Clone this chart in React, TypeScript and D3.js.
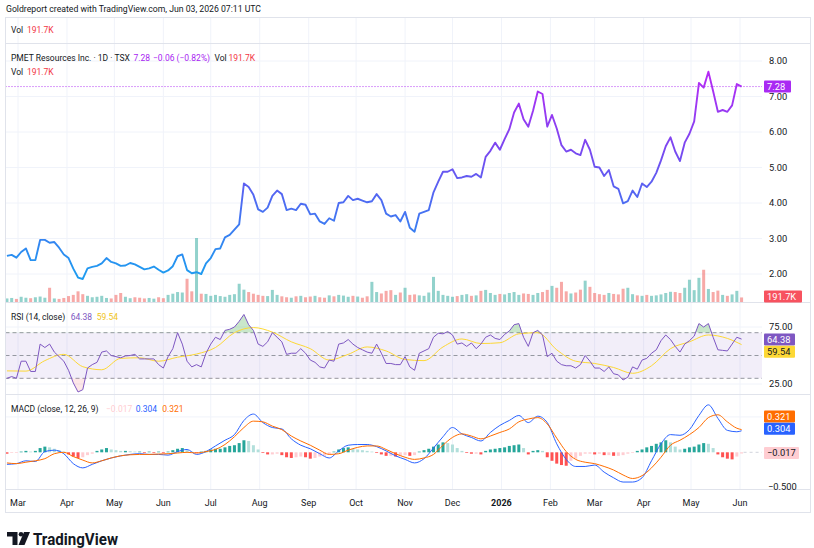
import React from "react";
import * as d3 from "d3";

// one point every 3 calendar days, starting Feb 22 2025 (last = Jun 2 2026)
const START = new Date(2025, 1, 22);
const STEP_DAYS = 3;

const closes = [
  2.51, 2.54, 2.46, 2.62, 2.72, 2.39, 2.39, 2.96, 2.96, 2.88,
  2.9, 2.74, 2.55, 2.45, 2.15, 1.9, 1.86, 2.16, 2.2, 2.23,
  2.3, 2.45, 2.34, 2.3, 2.23, 2.24, 2.31, 2.27, 2.2, 2.13,
  2.16, 2.21, 2.12, 2.04, 2.1, 2.22, 2.5, 2.55, 2.11, 2.02,
  2.05, 2.0, 2.3, 2.45, 2.7, 2.72, 3.03, 3.1, 3.25, 3.4,
  4.55, 4.45, 4.23, 3.82, 3.75, 3.87, 4.2, 4.35, 4.25, 3.8,
  3.84, 3.8, 3.98, 3.95, 3.68, 3.7, 3.48, 3.41, 3.57, 3.5,
  4.0, 4.02, 4.2, 4.08, 4.12, 4.07, 4.02, 4.05, 4.25, 4.08,
  3.7, 3.62, 3.66, 3.48, 3.75, 3.3, 3.19, 3.7, 3.75, 3.8,
  4.3, 4.6, 4.88, 4.88, 4.95, 4.7, 4.72, 4.76, 4.74, 4.82,
  4.72, 5.3, 5.47, 5.7, 5.5, 5.8, 6.08, 6.55, 6.8, 6.36,
  6.15, 6.6, 7.14, 7.07, 6.15, 6.48, 6.1, 5.63, 5.45, 5.5,
  5.4, 5.35, 5.78, 5.5, 5.02, 5.0, 4.76, 4.93, 4.47, 4.4,
  3.99, 4.05, 4.35, 4.17, 4.55, 4.45, 4.6, 4.85, 5.2, 5.6,
  5.85, 5.45, 5.18, 5.7, 5.95, 6.3, 7.38, 7.25, 7.7, 7.15,
  6.57, 6.62, 6.57, 6.75, 7.35, 7.28,
];

// volume in thousands
const volumes = [
  150, 170, 130, 220, 180, 160, 200, 230, 180, 600,
  150, 130, 170, 250, 300, 450, 330, 260, 200, 220,
  260, 170, 150, 300, 380, 220, 160, 200, 180, 150,
  170, 140, 200, 160, 300, 350, 420, 400, 980, 450,
  2700, 350, 340, 260, 300, 250, 220, 300, 330, 770,
  520, 420, 350, 300, 260, 250, 510, 300, 240, 200,
  180, 240, 260, 200, 230, 260, 200, 180, 280, 240,
  300, 270, 220, 260, 230, 180, 240, 850, 420, 360,
  470, 500, 300, 400, 600, 300, 320, 280, 260, 400,
  1060, 470, 300, 260, 220, 250, 300, 330, 260, 280,
  470, 510, 380, 300, 340, 320, 380, 420, 300, 360,
  340, 300, 380, 420, 510, 680, 600, 850, 450, 360,
  400, 520, 900, 640, 380, 330, 300, 380, 340, 320,
  560, 600, 330, 280, 260, 300, 260, 280, 320, 380,
  430, 420, 380, 600, 940, 500, 1020, 1360, 550, 420,
  480, 300, 260, 320, 470, 191.7,
];

const rsi = [
  30, 31.5, 30, 45, 45, 36, 36, 60, 57, 60,
  53, 49, 45, 37, 26, 18, 20, 39, 42, 44,
  53, 54, 50, 49, 48, 49.6, 50, 51, 47, 47,
  47, 47, 42, 39, 49, 56, 70, 60, 45, 40,
  42, 40, 52, 60, 66, 64, 72, 73, 75, 80,
  86, 77, 72, 60, 58, 62, 70, 66, 62, 51,
  52, 52, 56, 52, 46, 44, 40, 39, 46, 45,
  60, 61, 64, 60, 57, 55, 53, 52, 60, 52,
  43, 43, 42, 42, 49, 40, 37, 52, 54, 56,
  66, 69.5, 69, 71, 68, 60, 61, 58, 61, 56,
  60, 66, 68, 65, 64, 68.5, 71.5, 77, 78, 66,
  58, 70, 72, 68, 49, 52, 45, 42, 41, 41,
  39, 42, 50, 45, 39, 39, 36, 40, 34, 33,
  28.5, 31, 40, 38, 46, 47.5, 52, 55, 63, 68,
  64, 58, 53, 60, 63, 67, 78, 75, 78, 66,
  55, 54.5, 54, 60, 66, 64.38,
];

// RSI moving average, every 4th point plus the last one
const rsiMa = [
  36.5, 36.3, 45.5, 51, 40.2, 37.5, 47.5, 48, 45, 48.5,
  51.3, 57, 70, 74.5, 70.5, 62, 56, 46, 51, 57.5,
  54, 46.5, 45.5, 57.5, 64.5, 60.5, 61.2, 69, 70, 55,
  45, 43, 39.5, 34.4, 41, 56, 62, 68, 65, 59.54,
];

// MACD and signal, every 2nd point plus the last one
const macd = [
  -0.17, -0.16, -0.12, -0.13, 0.01, 0.03, -0.02, -0.16, -0.22, -0.17,
  -0.12, -0.08, -0.05, -0.03, -0.02, -0.03, -0.03, -0.04, 0.01, 0.04,
  -0.03, 0.01, 0.09, 0.17, 0.25, 0.45, 0.54, 0.42, 0.35, 0.33,
  0.19, 0.1, 0.05, -0.02, -0.08, 0.02, 0.1, 0.11, 0.11, 0.08,
  0.02, -0.05, -0.1, -0.15, -0.09, 0.06, 0.22, 0.35, 0.26, 0.21,
  0.16, 0.28, 0.38, 0.45, 0.52, 0.42, 0.51, 0.42, 0.12, -0.1,
  -0.2, -0.2, -0.18, -0.28, -0.36, -0.42, -0.42, -0.36, -0.12, 0.12,
  0.25, 0.24, 0.32, 0.52, 0.67, 0.48, 0.31, 0.29, 0.304,
];

const signal = [
  -0.15, -0.16, -0.14, -0.12, -0.09, -0.02, 0.0, -0.06, -0.11, -0.15,
  -0.12, -0.08, -0.05, -0.035, -0.03, -0.03, -0.025, -0.02, -0.01, 0.0,
  -0.01, 0.01, 0.04, 0.11, 0.22, 0.35, 0.44, 0.43, 0.37, 0.32,
  0.23, 0.16, 0.1, 0.03, -0.03, -0.02, 0.03, 0.07, 0.09, 0.09,
  0.04, -0.02, -0.07, -0.1, -0.08, -0.03, 0.1, 0.21, 0.26, 0.23,
  0.19, 0.23, 0.28, 0.33, 0.43, 0.47, 0.49, 0.4, 0.2, 0.01,
  -0.1, -0.14, -0.16, -0.2, -0.25, -0.32, -0.37, -0.33, -0.22, -0.07,
  0.1, 0.17, 0.25, 0.35, 0.49, 0.53, 0.43, 0.34, 0.321,
];

const hist = [
  -0.02, -0.01, -0.01, 0.01, 0.02, 0.01, 0.02, 0.06, 0.08, 0.07,
  0.05, 0.03, 0.01, -0.03, -0.06, -0.08, -0.07, -0.04, -0.02, 0.02,
  0.04, 0.06, 0.04, 0.03, 0.02, 0.02, 0.015, 0.01, 0.01, -0.01,
  0.01, -0.01, 0.01, -0.01, 0.01, 0.03, 0.05, 0.06, 0.03, 0.01,
  -0.01, 0.01, 0.02, 0.04, 0.05, 0.05, 0.07, 0.09, 0.1, 0.13,
  0.17, 0.16, 0.1, 0.04, -0.01, -0.03, -0.03, -0.02, -0.04, -0.07,
  -0.08, -0.07, -0.06, -0.07, -0.09, -0.08, -0.06, -0.05, -0.03, 0.01,
  0.04, 0.06, 0.07, 0.05, 0.04, 0.03, 0.02, 0.01, -0.01, -0.03,
  -0.05, -0.05, -0.06, -0.05, -0.04, -0.05, -0.04, 0.01, 0.03, 0.05,
  0.08, 0.11, 0.14, 0.13, 0.11, 0.06, 0.02, -0.01, -0.02, -0.02,
  -0.03, 0.02, 0.04, 0.05, 0.06, 0.07, 0.09, 0.1, 0.11, 0.06,
  -0.03, 0.02, 0.03, 0.02, -0.07, -0.12, -0.16, -0.18, -0.19, -0.12,
  -0.09, -0.05, -0.02, -0.02, -0.03, -0.02, -0.04, -0.04, -0.05, -0.05,
  -0.04, -0.02, -0.01, 0.02, 0.04, 0.07, 0.09, 0.12, 0.14, 0.17,
  0.14, 0.08, 0.04, 0.05, 0.07, 0.08, 0.11, 0.13, 0.12, 0.06,
  -0.03, -0.07, -0.09, -0.1, -0.06, -0.017,
];

const priceTicks = [2, 3, 4, 5, 6, 7, 8];
const monthLabels = ["Mar", "Apr", "May", "Jun", "Jul", "Aug", "Sep", "Oct", "Nov", "Dec", "2026", "Feb", "Mar", "Apr", "May", "Jun"];

const FONT = "Roboto, 'Liberation Sans', Arial, sans-serif";
const TXT = "#131722";
const GRID = "#f0f3fa";
const BORDER = "#e0e3eb";
const RED = "#F23645";
const PURPLE = "#a825f2";

// layout
const L = 5.5, R = 810.5, PR = 762, AX = 769;
const TOP = 17.5, SEP1 = 43.5, SEP2 = 302.5, SEP3 = 394.5, SEP4 = 489.5, BOT = 512.5;

function T(props: any) {
  const { w, children, ...rest } = props;
  return (
    <text fontFamily={FONT} fontSize={8.5} fill={TXT} textLength={w} lengthAdjust={w ? "spacingAndGlyphs" : undefined} {...rest}>
      {children}
    </text>
  );
}

function Tag({ y, text, bg, color = "#fff", w = 31 }: any) {
  return (
    <g>
      <rect x={764} y={y - 6} width={w} height={12} fill={bg} rx={1} />
      <text x={767} y={y + 3.3} fontFamily={FONT} fontSize={9.3} fill={color}>{text}</text>
    </g>
  );
}

export default function App() {
  const n = closes.length;
  const dates = d3.range(n).map((i) => d3.timeDay.offset(START, i * STEP_DAYS));
  const x = d3.scaleTime().domain([new Date(2025, 2, 1), new Date(2026, 5, 1)]).range([18, 740]);
  const xi = (i: number) => x(dates[i]);
  const months = d3.timeMonth.range(new Date(2025, 2, 1), new Date(2026, 6, 1));

  const yP = d3.scaleLinear().domain([2, 8]).range([274, 61]);
  const yV = d3.scaleLinear().domain([0, 2700]).range([302, 238]);
  const yR = d3.scaleLinear().domain([30, 70]).range([378.3, 332.7]);
  const yM = d3.scaleLinear().domain([-0.5, 0.5]).range([487.7, 416.9]);

  const priceLine = d3.line<number>().x((_, i) => xi(i)).y((d) => yP(d));
  const rsiLine = d3.line<number>().x((_, i) => xi(i)).y((d) => yR(d));
  const rsiArea = d3.area<number>().x((_, i) => xi(i)).y0(yR(70)).y1((d) => yR(d));
  const rsiAreaLow = d3.area<number>().x((_, i) => xi(i)).y0(yR(30)).y1((d) => yR(d));
  const maIdx = (k: number, len: number, step: number) => (k === len - 1 ? n - 1 : k * step);
  const rsiMaLine = d3.line<number>().x((_, k) => xi(maIdx(k, rsiMa.length, 4))).y((d) => yR(d)).curve(d3.curveMonotoneX);
  const macdLine = d3.line<number>().x((_, k) => xi(maIdx(k, macd.length, 2))).y((d) => yM(d)).curve(d3.curveMonotoneX);
  const sigLine = d3.line<number>().x((_, k) => xi(maIdx(k, signal.length, 2))).y((d) => yM(d)).curve(d3.curveMonotoneX);

  const histColor = (v: number, p: number) =>
    v >= 0 ? (v >= p ? "#26A69A" : "#B2DFDB") : v < p ? "#FF5252" : "#FFCDD2";

  return (
    <svg width={814} height={548} style={{ position: "absolute", left: 0, top: 0 }}>
      <defs>
        <linearGradient id="pg" gradientUnits="userSpaceOnUse" x1={0} y1={275} x2={0} y2={70}>
          <stop offset="0" stopColor="#1E9BF0" />
          <stop offset="0.35" stopColor="#4C6CF2" />
          <stop offset="0.62" stopColor="#7B47F0" />
          <stop offset="1" stopColor="#B829F5" />
        </linearGradient>
        <clipPath id="ob"><rect x={0} y={SEP2} width={PR} height={yR(70) - SEP2} /></clipPath>
        <clipPath id="os"><rect x={0} y={yR(30)} width={PR} height={SEP3 - yR(30)} /></clipPath>
      </defs>
      <rect width={814} height={548} fill="#fff" />

      <T x={6} y={11.5} w={255}>Goldreport created with TradingView.com, Jun 03, 2026 07:11 UTC</T>

      {/* grid */}
      {months.map((m, i) => (
        <line key={"vg" + i} x1={x(m)} x2={x(m)} y1={TOP} y2={SEP4} stroke={GRID} />
      ))}
      {priceTicks.map((p) => (
        <line key={"hg" + p} x1={L} x2={PR} y1={yP(p)} y2={yP(p)} stroke={GRID} />
      ))}
      {[75, 25].map((v) => (
        <line key={"rg" + v} x1={L} x2={PR} y1={yR(v)} y2={yR(v)} stroke={GRID} />
      ))}
      <line x1={L} x2={PR} y1={yM(0.5)} y2={yM(0.5)} stroke={GRID} />

      {/* volume */}
      {volumes.map((v, i) => {
        const up = i === 0 || closes[i] >= closes[i - 1];
        return (
          <rect key={"v" + i} x={xi(i) - 1.5} width={3} y={yV(v)} height={yV(0) - yV(v)}
            fill={up ? "rgba(38,166,154,0.5)" : "rgba(239,83,80,0.5)"} />
        );
      })}

      {/* last price line */}
      <line x1={L} x2={PR} y1={yP(7.28)} y2={yP(7.28)} stroke="#b33cf5" strokeDasharray="1 2" />
      <path d={priceLine(closes) || ""} fill="none" stroke="url(#pg)" strokeWidth={1.9} strokeLinejoin="round" />

      {/* RSI */}
      <rect x={L} width={PR - L} y={yR(70)} height={yR(30) - yR(70)} fill="rgba(126,87,194,0.1)" />
      {[70, 50, 30].map((v) => (
        <line key={"rd" + v} x1={L} x2={PR} y1={yR(v)} y2={yR(v)} stroke="#9598a1" strokeDasharray="4 3" />
      ))}
      <path d={rsiArea(rsi) || ""} fill="rgba(76,175,80,0.3)" clipPath="url(#ob)" />
      <path d={rsiAreaLow(rsi) || ""} fill="rgba(242,54,69,0.12)" clipPath="url(#os)" />
      <path d={rsiMaLine(rsiMa) || ""} fill="none" stroke="#FDD835" strokeWidth={1} />
      <path d={rsiLine(rsi) || ""} fill="none" stroke="#7E57C2" strokeWidth={1} />

      {/* MACD */}
      {hist.map((v, i) => {
        const p = i === 0 ? 0 : hist[i - 1];
        const y0 = yM(0), y1 = yM(v);
        return (
          <rect key={"h" + i} x={xi(i) - 1.5} width={3} y={Math.min(y0, y1)} height={Math.max(0.6, Math.abs(y1 - y0))}
            fill={histColor(v, p)} />
        );
      })}
      <line x1={xi(n - 1) + 2} x2={PR} y1={yM(0)} y2={yM(0)} stroke="#d1d4dc" strokeDasharray="3 3" />
      <path d={macdLine(macd) || ""} fill="none" stroke="#2962FF" strokeWidth={1} />
      <path d={sigLine(signal) || ""} fill="none" stroke="#FF6D00" strokeWidth={1} />

      {/* frame & separators */}
      <rect x={L} y={TOP} width={R - L} height={BOT - TOP} fill="none" stroke={BORDER} />
      {[SEP1, SEP2, SEP3, SEP4].map((s) => (
        <line key={"s" + s} x1={L} x2={R} y1={s} y2={s} stroke={BORDER} />
      ))}

      {/* legends */}
      <T x={11} y={32.5}>Vol</T>
      <T x={27} y={32.5} fill={RED}>191.7K</T>
      <T x={11} y={60.5}>PMET Resources Inc. · 1D · TSX</T>
      <T x={133.5} y={60.5} fill={PURPLE}>7.28</T>
      <T x={153} y={60.5} fill={PURPLE}>−0.06 (−0.82%)</T>
      <T x={214.5} y={60.5}>Vol</T>
      <T x={228.5} y={60.5} fill={RED}>191.7K</T>
      <T x={11} y={74.5}>Vol</T>
      <T x={27} y={74.5} fill={RED}>191.7K</T>

      <T x={11} y={319.5}>RSI (14, close)</T>
      <T x={70.7} y={319.5} fill="#7E57C2">64.38</T>
      <T x={96.7} y={319.5} fill="#F0C419">59.54</T>

      <T x={11} y={411.5}>MACD (close, 12, 26, 9)</T>
      <T x={106} y={411.5} fill="#FFCDD2">−0.017</T>
      <T x={135.7} y={411.5} fill="#2962FF">0.304</T>
      <T x={162.3} y={411.5} fill="#FF6D00">0.321</T>

      {/* right axis */}
      {priceTicks.map((p) => (
        <T key={"pl" + p} x={AX} y={yP(p) + 3.3} fontSize={9.3}>{d3.format(".2f")(p)}</T>
      ))}
      <T x={AX} y={yR(75) + 3.3} fontSize={9.3}>75.00</T>
      <T x={AX} y={yR(25) + 3.3} fontSize={9.3}>25.00</T>
      <T x={AX - 1} y={yM(-0.5) + 2} fontSize={9.3}>−0.500</T>

      <Tag y={yP(7.28)} text="7.28" bg="#a92af3" w={27} />
      <Tag y={296.5} text="191.7K" bg="#f7525f" w={38} />
      <Tag y={339.5} text="64.38" bg="#7E57C2" />
      <Tag y={351.8} text="59.54" bg="#FDD835" color={TXT} />
      <Tag y={416.5} text="0.321" bg="#FF6D00" />
      <Tag y={428.7} text="0.304" bg="#2962FF" />
      <Tag y={453} text="−0.017" bg="#FFCDD2" color={TXT} w={35} />

      {/* time axis */}
      {months.map((m, i) => (
        <T key={"ml" + i} x={x(m)} y={506} fontSize={9} textAnchor="middle" fontWeight={monthLabels[i] === "2026" ? "bold" : "normal"}>
          {monthLabels[i]}
        </T>
      ))}

      {/* logo */}
      <g fill="#131722">
        <path d="M7 532 H17.5 V545 H12.5 V536.5 H7 Z" />
        <circle cx={21} cy={534.3} r={2.3} />
        <path d="M24 532 H30 L24.5 545 H18.5 Z" />
      </g>
      <text x={33} y={544.5} fontFamily={FONT} fontSize={17} fontWeight="bold" fill="#131722" textLength={85} lengthAdjust="spacingAndGlyphs">TradingView</text>
    </svg>
  );
}
